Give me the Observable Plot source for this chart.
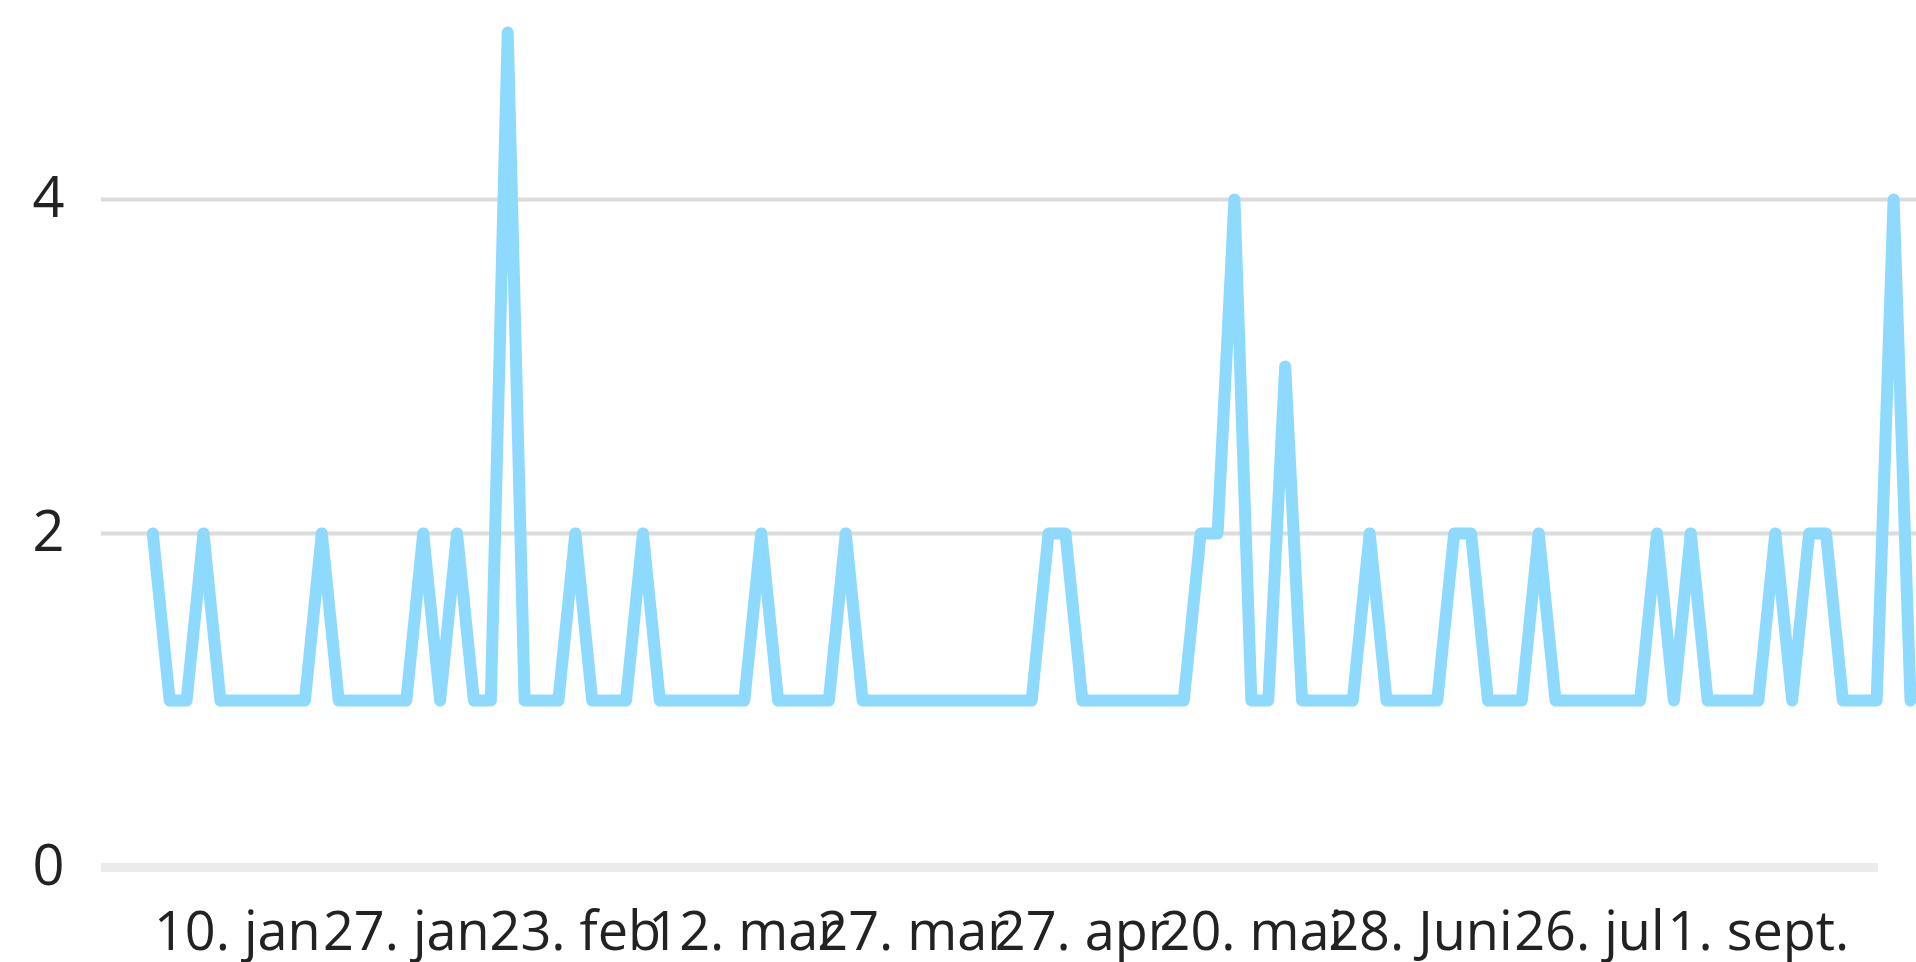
<!DOCTYPE html>
<html>
<head>
<meta charset="utf-8">
<script src="https://cdn.jsdelivr.net/npm/d3@7"></script>
<script src="https://cdn.jsdelivr.net/npm/@observablehq/plot@0.6"></script>
<style>
  html, body { margin: 0; padding: 0; background: #ffffff; overflow: hidden; }
  #chart svg { display: block; }
</style>
</head>
<body>
<div id="chart"></div>
<script>
// Daily counts, one value per category position
const counts = [
  2,1,1,2,1,1,1,1,1,1,
  2,1,1,1,1,1,2,1,2,1,
  1,5,1,1,1,2,1,1,1,2,
  1,1,1,1,1,1,2,1,1,1,
  1,2,1,1,1,1,1,1,1,1,
  1,1,1,2,2,1,1,1,1,1,
  1,1,2,2,4,1,1,3,1,1,
  1,1,2,1,1,1,1,2,2,1,
  1,1,2,1,1,1,1,1,1,2,
  1,2,1,1,1,1,2,1,2,2,
  1,1,1,4,1
];
// Category tick labels shown under the axis (every 10th category)
const tickLabels = ["10. jan","27. jan","23. feb","12. mar","27. mar","27. apr","20. mai","28. Juni","26. jul","1. sept."];
const yTicks = [0, 2, 4];

const data = counts.map((v, i) => ({i, v}));
const tickIndex = tickLabels.map((_, k) => 5 + 10 * k);
const labelAt = new Map(tickIndex.map((t, k) => [t, tickLabels[k]]));

const chart = Plot.plot({
  width: 1916,
  height: 962,
  marginLeft: 101,
  marginRight: 0,
  marginTop: 0,
  marginBottom: 95,
  x: {type: "linear", domain: [0, counts.length - 1], range: [152.3, 1910]},
  y: {domain: [0, 5], range: [867, 32]},
  style: {fontFamily: "'Open Sans', sans-serif", fontSize: "54px", color: "#222", background: "#ffffff"},
  marks: [
    Plot.ruleY(yTicks.filter(d => d !== 0), {stroke: "#dcdcdc", strokeWidth: 4}),
    Plot.ruleY([0], {stroke: "#ebebeb", strokeWidth: 9, insetRight: 38}),
    Plot.lineY(data, {x: "i", y: "v", stroke: "#8ed9fe", strokeWidth: 12, strokeLinejoin: "round"}),
    Plot.axisY({ticks: yTicks, tickFormat: d3.format("d"), tickSize: 0, tickPadding: 37, fontSize: 56, label: null}),
    Plot.axisX({ticks: tickIndex, tickFormat: d => labelAt.get(d), tickSize: 0, tickPadding: 44, fontSize: 54, label: null})
  ]
});
document.getElementById("chart").appendChild(chart);
</script>
</body>
</html>
